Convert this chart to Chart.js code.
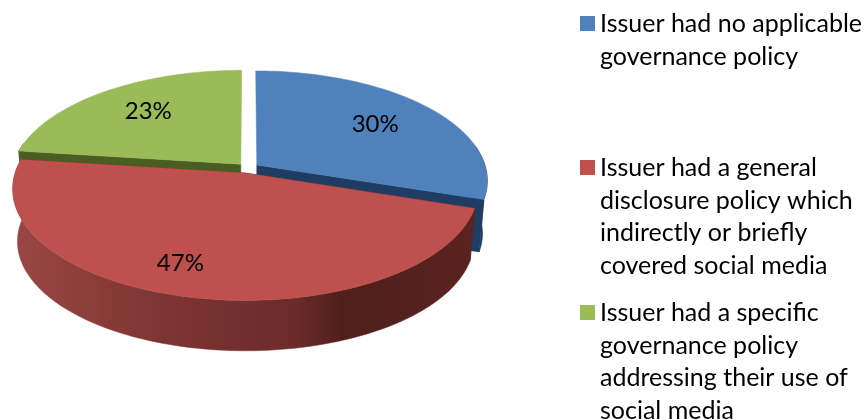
<!DOCTYPE html>
<html>
<head>
<meta charset="utf-8">
<title>Issuer governance policy</title>
<script src="https://cdn.jsdelivr.net/npm/chart.js@4"></script>
<style>
  html, body { margin: 0; padding: 0; background: #fff; }
  canvas { display: block; }
</style>
</head>
<body>
<canvas id="policy-chart" width="864" height="419"></canvas>
<script>
  // data
  var categories = [
    "Issuer had no applicable governance policy",
    "Issuer had a general disclosure policy which indirectly or briefly covered social media",
    "Issuer had a specific governance policy addressing their use of social media"
  ];
  var legendLines = [
    ["Issuer had no applicable", "governance policy"],
    ["Issuer had a general", "disclosure policy which", "indirectly or briefly", "covered social media"],
    ["Issuer had a specific", "governance policy", "addressing their use of", "social media"]
  ];
  var shares = [30, 47, 23];

  // colours
  var topColors = ["#4F81BD", "#BE504D", "#9BBB59"];
  var sideColors = ["#1F3C63", "#632523", "#4A5E23"];

  var fontName = "Lato, 'Open Sans', sans-serif";
  var legendFontSize = 25;
  var labelFontSize = 24;

  // tilted view of the pie
  var view = { cx: 248, cy: 168, rx: 229, ry: 108, k: 0.14, depth: 53, shrink: 0.98 };
  var legendView = { swatchX: 580, swatchSize: 15, textX: 600, lineGap: 32.6, firstBaseline: [32, 176, 321] };
  // where the percent sits on the slice, and a small shift like the original has
  var labelSpot = { radius: [0.68, 0.7, 0.66], nudgeX: [0, -26, 0], nudgeY: [0, 8, -3] };

  function project(u, v, low) {
    var w = 1 - view.k * v;
    var s = low ? view.shrink : 1;
    return {
      x: view.cx + view.rx * s * u / w,
      y: view.cy + view.ry * s * v / w + (low ? view.depth : 0)
    };
  }

  // point on a slice in unit pie coordinates, slice pushed out as chart.js does it
  function slicePoint(el, frac, angle) {
    var mid = (el.startAngle + el.endAngle) / 2;
    var push = (el.options.offset || 0) / 4 / el.outerRadius;
    return {
      u: frac * Math.cos(angle) + push * Math.cos(mid),
      v: frac * Math.sin(angle) + push * Math.sin(mid)
    };
  }

  function rimPoints(el, low, frontOnly) {
    var pts = [];
    var steps = Math.ceil((el.endAngle - el.startAngle) * 40);
    for (var i = 0; i <= steps; i++) {
      var a = el.startAngle + (el.endAngle - el.startAngle) * i / steps;
      // the back of the rim is hidden behind the top face
      if (frontOnly && Math.sin(a) < -0.2) continue;
      var p = slicePoint(el, 1, a);
      pts.push(project(p.u, p.v, low));
    }
    return pts;
  }

  function fillPoly(ctx, pts, color) {
    ctx.beginPath();
    ctx.moveTo(pts[0].x, pts[0].y);
    for (var i = 1; i < pts.length; i++) ctx.lineTo(pts[i].x, pts[i].y);
    ctx.closePath();
    ctx.fillStyle = color;
    ctx.strokeStyle = color;
    ctx.lineWidth = 0.5;
    ctx.fill();
    ctx.stroke();
  }

  function drawSlice(ctx, el, index) {
    var apex = slicePoint(el, 0, 0);
    var apexTop = project(apex.u, apex.v, false);
    var apexLow = project(apex.u, apex.v, true);
    var top = rimPoints(el, false, false);
    var low = rimPoints(el, true, false);
    var side = sideColors[index];

    // cut faces, one pointing straight back can't be seen
    if (Math.abs(Math.cos(el.startAngle)) > 0.01) {
      fillPoly(ctx, [apexTop, top[0], low[0], apexLow], side);
    }
    if (Math.abs(Math.cos(el.endAngle)) > 0.01) {
      fillPoly(ctx, [apexTop, top[top.length - 1], low[low.length - 1], apexLow], side);
    }

    // outer wall, the big red one has a left to right shade
    var wall = side;
    if (index === 1) {
      wall = ctx.createLinearGradient(12, 0, 472, 0);
      wall.addColorStop(0, "#9A4744");
      wall.addColorStop(0.3, "#7F3634");
      wall.addColorStop(0.62, "#6A2B29");
      wall.addColorStop(0.72, "#4F1F1C");
      wall.addColorStop(1, "#5A2320");
    }
    var wallTop = rimPoints(el, false, true);
    var wallLow = rimPoints(el, true, true);
    fillPoly(ctx, wallTop.concat(wallLow.reverse()), wall);

    // top face
    fillPoly(ctx, [apexTop].concat(top), topColors[index]);
  }

  var tiltedPie = {
    id: "tiltedPie",
    beforeDatasetsDraw: function(chart) {
      var ctx = chart.ctx;
      var arcs = chart.getDatasetMeta(0).data;
      ctx.save();
      // back slices first, the red one sits in front of both
      [2, 0, 1].forEach(function(i) { drawSlice(ctx, arcs[i], i); });
      ctx.restore();
      return false;
    },
    afterDraw: function(chart) {
      var ctx = chart.ctx;
      var arcs = chart.getDatasetMeta(0).data;
      ctx.save();
      ctx.fillStyle = "#000";

      // percent labels
      ctx.font = labelFontSize + "px " + fontName;
      ctx.textAlign = "center";
      ctx.textBaseline = "middle";
      arcs.forEach(function(el, i) {
        var mid = (el.startAngle + el.endAngle) / 2;
        var p = slicePoint(el, labelSpot.radius[i], mid);
        var q = project(p.u, p.v, false);
        ctx.fillText(shares[i] + "%", q.x + labelSpot.nudgeX[i], q.y + labelSpot.nudgeY[i]);
      });

      // legend
      ctx.font = legendFontSize + "px " + fontName;
      ctx.textAlign = "left";
      ctx.textBaseline = "alphabetic";
      legendLines.forEach(function(lines, i) {
        var base = legendView.firstBaseline[i];
        ctx.fillStyle = topColors[i];
        ctx.fillRect(legendView.swatchX, base - 16, legendView.swatchSize, legendView.swatchSize);
        ctx.fillStyle = "#000";
        lines.forEach(function(line, n) {
          ctx.fillText(line, legendView.textX, base + n * legendView.lineGap);
        });
      });
      ctx.restore();
    }
  };

  new Chart(document.getElementById("policy-chart"), {
    type: "pie",
    data: {
      labels: categories,
      datasets: [{
        data: shares,
        backgroundColor: topColors,
        borderWidth: 0,
        offset: 24
      }]
    },
    options: {
      responsive: false,
      animation: false,
      layout: { padding: { left: 110, right: 478, top: 30, bottom: 113 } },
      plugins: { legend: { display: false }, tooltip: { enabled: false } }
    },
    plugins: [tiltedPie]
  });
</script>
</body>
</html>
